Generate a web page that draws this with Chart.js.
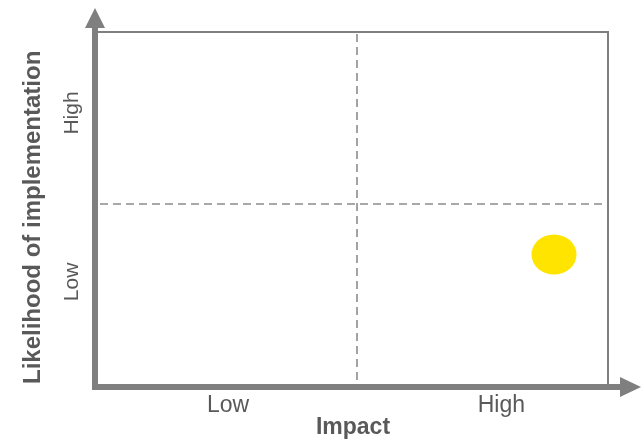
<!DOCTYPE html>
<html>
<head>
<meta charset="utf-8">
<title>Impact vs likelihood</title>
<script src="https://cdn.jsdelivr.net/npm/chart.js@4/dist/chart.umd.min.js"></script>
<style>
  html, body { margin: 0; padding: 0; background: #ffffff; overflow: hidden; }
  canvas { display: block; }
</style>
</head>
<body>
<canvas id="matrix" width="642" height="439"></canvas>
<script>
// Axis labels and where they sit on the 0–10 scales
const xTickValues = [2.55, 7.91];
const xTickLabels = ['Low', 'High'];
const yTickValues = [2.9, 7.7];
const yTickLabels = ['Low', 'High'];
const xTitle = 'Impact';
const yTitle = 'Likelihood of implementation';

// Quadrant dividers
const xSplit = 5.07;
const ySplit = 5.11;

// Plotted initiative(s)
const itemImpact = [8.94];
const itemLikelihood = [3.68];

const FONT = "'Liberation Sans', Arial, Helvetica, sans-serif";
const TEXT = '#595959';
const AXIS = '#7f7f7f';

// Oval marker used as the point style
function ovalMarker(w, h, color) {
  const c = document.createElement('canvas');
  c.width = w; c.height = h;
  const g = c.getContext('2d');
  g.fillStyle = color;
  g.beginPath();
  g.ellipse(w / 2, h / 2, w / 2 - 0.5, h / 2 - 0.5, 0, 0, Math.PI * 2);
  g.fill();
  return c;
}

// Frame, dashed quadrant dividers and arrowed axes
const quadrantFrame = {
  id: 'quadrantFrame',
  beforeDatasetsDraw(chart) {
    const { ctx, chartArea: a, scales: { x, y } } = chart;
    ctx.save();

    // dashed dividers
    ctx.strokeStyle = '#8c8c8c';
    ctx.lineWidth = 1.6;
    ctx.setLineDash([8, 5]);
    const px = Math.round(x.getPixelForValue(xSplit));
    const py = Math.round(y.getPixelForValue(ySplit));
    ctx.beginPath();
    ctx.moveTo(px, a.top + 2);
    ctx.lineTo(px, a.bottom);
    ctx.stroke();
    ctx.beginPath();
    ctx.moveTo(a.left + 2, py);
    ctx.lineTo(a.right - 2, py);
    ctx.stroke();
    ctx.setLineDash([]);

    // top and right frame lines
    ctx.strokeStyle = AXIS;
    ctx.lineWidth = 2;
    ctx.beginPath();
    ctx.moveTo(a.left, a.top);
    ctx.lineTo(a.right + 1, a.top);
    ctx.moveTo(a.right, a.top);
    ctx.lineTo(a.right, a.bottom);
    ctx.stroke();

    // thick axes
    ctx.lineWidth = 6;
    ctx.beginPath();
    ctx.moveTo(a.left - 3, a.bottom + 6);
    ctx.lineTo(a.left - 3, a.top - 4);
    ctx.stroke();
    ctx.beginPath();
    ctx.moveTo(a.left - 6, a.bottom + 3);
    ctx.lineTo(a.right + 12, a.bottom + 3);
    ctx.stroke();

    // arrow heads
    ctx.fillStyle = AXIS;
    ctx.beginPath();
    ctx.moveTo(a.left - 3, a.top - 24);
    ctx.lineTo(a.left - 13, a.top - 4);
    ctx.lineTo(a.left + 7, a.top - 4);
    ctx.closePath();
    ctx.fill();
    ctx.beginPath();
    ctx.moveTo(a.right + 33, a.bottom + 3);
    ctx.lineTo(a.right + 12, a.bottom - 7);
    ctx.lineTo(a.right + 12, a.bottom + 13);
    ctx.closePath();
    ctx.fill();

    ctx.restore();
  }
};

new Chart(document.getElementById('matrix'), {
  type: 'scatter',
  data: {
    datasets: [{
      data: itemImpact.map((v, i) => ({ x: v, y: itemLikelihood[i] })),
      pointStyle: ovalMarker(46, 41, '#ffe400'),
      pointRadius: 22,
      pointHoverRadius: 22,
      backgroundColor: '#ffe400',
      borderWidth: 0
    }]
  },
  options: {
    responsive: false,
    animation: false,
    events: [],
    layout: { padding: { top: 32, right: 34, bottom: 0, left: 0 } },
    plugins: { legend: { display: false }, tooltip: { enabled: false } },
    scales: {
      x: {
        type: 'linear', position: 'bottom', min: 0, max: 10,
        grid: { display: false, drawTicks: false },
        border: { display: false },
        afterBuildTicks: s => { s.ticks = xTickValues.map(v => ({ value: v })); },
        afterFit: s => { s.height = 55; },
        ticks: {
          autoSkip: false, minRotation: 0, maxRotation: 0, padding: 10,
          color: TEXT, font: { family: FONT, size: 23, lineHeight: 1 },
          callback: v => xTickLabels[xTickValues.indexOf(v)]
        },
        title: {
          display: true, text: xTitle, color: TEXT,
          font: { family: FONT, size: 23, weight: 'bold', lineHeight: 1 },
          padding: { top: 0, bottom: 0 }
        }
      },
      y: {
        type: 'linear', position: 'left', min: 0, max: 10,
        grid: { display: false, drawTicks: false },
        border: { display: false },
        afterBuildTicks: s => { s.ticks = yTickValues.map(v => ({ value: v })); },
        afterFit: s => { s.width = 98; },
        ticks: {
          autoSkip: false, minRotation: 90, maxRotation: 90, crossAlign: 'center', padding: 4,
          color: TEXT, font: { family: FONT, size: 21, lineHeight: 1 },
          callback: v => yTickLabels[yTickValues.indexOf(v)]
        },
        title: {
          display: true, text: yTitle, color: TEXT, align: 'start',
          font: { family: FONT, size: 24, weight: 'bold', lineHeight: 1 },
          padding: { top: 21, bottom: 0 }
        }
      }
    }
  },
  plugins: [quadrantFrame]
});
</script>
</body>
</html>
